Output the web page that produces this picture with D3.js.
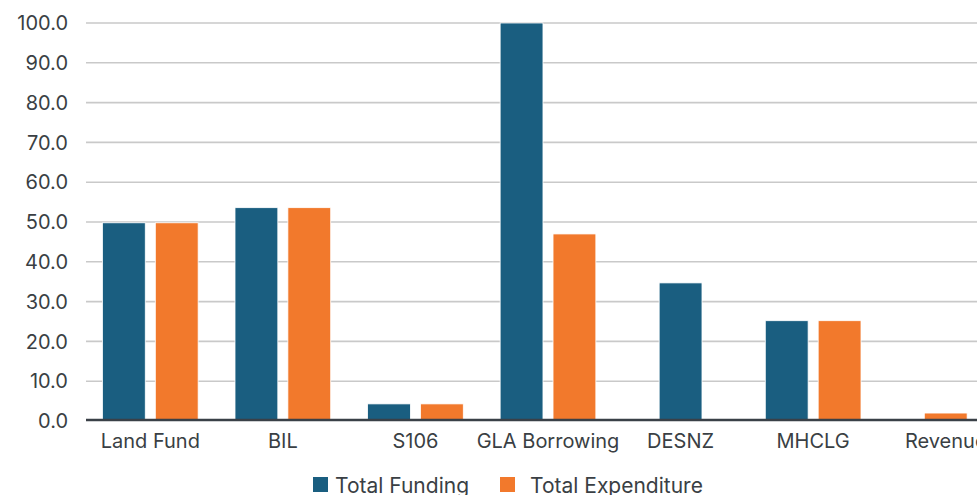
<!DOCTYPE html>
<html><head><meta charset="utf-8">
<script src="https://cdn.jsdelivr.net/npm/d3@7"></script>
<style>
html,body{margin:0;padding:0;background:#fff;overflow:hidden;}
svg{display:block;}
</style></head>
<body>
<svg id="chart" width="977" height="495"></svg>
<script>
const categories = ["Land Fund","BIL","S106","GLA Borrowing","DESNZ","MHCLG","Revenue"];
const seriesNames = ["Total Funding","Total Expenditure"];
const totalFunding = [49.8, 53.6, 4.3, 100.0, 34.7, 25.2, 0];
const totalExpenditure = [49.8, 53.6, 4.3, 47.0, 0, 25.2, 2.0];
const yTicks = [0,10,20,30,40,50,60,70,80,90,100];
const colors = ["#1a5e80","#f2792c"];

(function(){
const svg = d3.select("#chart");
const mLeft = 84, mRight = 1012, mTop = 23, mBottom = 421;

const y = d3.scaleLinear().domain([0,100]).range([mBottom, mTop]);
const x0 = d3.scaleBand().domain(categories).range([mLeft, mRight]).paddingInner(0.278).paddingOuter(0.139);

// gridlines
svg.append("g").selectAll("line").data(yTicks.filter(d=>d>0)).join("line")
  .attr("x1", 86).attr("x2", 977)
  .attr("y1", d=>y(d)).attr("y2", d=>y(d))
  .attr("stroke", "#c9c9c9").attr("stroke-width", 1.6);

// y tick labels
svg.append("g").selectAll("text").data(yTicks).join("text")
  .attr("x", 68).attr("y", d=>y(d)).attr("dy","0.36em")
  .attr("text-anchor","end")
  .attr("font-family","Inter, 'Noto Sans', sans-serif")
  .attr("font-size", 20).attr("fill","#3a3f44")
  .text(d=>d3.format(".1f")(d));

// bars
const rows = categories.map((c,i)=>({cat:c, vals:[totalFunding[i], totalExpenditure[i]]}));
const g = svg.append("g");
rows.forEach(r=>{
  const present = seriesNames.filter((s,j)=>r.vals[j] > 0);
  const x1 = d3.scaleBand().domain(present).range([0, x0.bandwidth()]).paddingInner(0.19);
  const bw = d3.scaleBand().domain(seriesNames).range([0, x0.bandwidth()]).paddingInner(0.19).bandwidth();
  const off = present.length === 1 ? (x0.bandwidth()-bw)/2 : 0;
  seriesNames.forEach((s,j)=>{
    if (!(r.vals[j] > 0)) return;
    const bx = x0(r.cat) + (present.length === 1 ? off : x1(s));
    g.append("rect")
      .attr("x", bx).attr("width", bw)
      .attr("y", y(r.vals[j])).attr("height", y(0)-y(r.vals[j]))
      .attr("fill", colors[j]).attr("stroke","#ffffff").attr("stroke-width",0.8);
  });
});

// x axis line
svg.append("line").attr("x1", 86).attr("x2", 977).attr("y1", y(0)-1).attr("y2", y(0)-1)
  .attr("stroke","#3a4047").attr("stroke-width",2.4);

// category labels
svg.append("g").selectAll("text").data(categories).join("text")
  .attr("x", d=>x0(d)+x0.bandwidth()/2).attr("y", 448)
  .attr("text-anchor","middle")
  .attr("font-family","Inter, 'Noto Sans', sans-serif")
  .attr("font-size", 20).attr("fill","#3a3f44")
  .text(d=>d);

// legend
const legX = [313, 500], legTextX = [335, 530];
const leg = svg.append("g");
seriesNames.forEach((s,j)=>{
  leg.append("rect").attr("x", legX[j]).attr("y", 477).attr("width",15).attr("height",15).attr("fill",colors[j]);
  leg.append("text").attr("x", legTextX[j]).attr("y", 493)
    .attr("font-family","Inter, 'Noto Sans', sans-serif")
    .attr("font-size", 21).attr("fill","#3a3f44").text(s);
});
})();
</script>
</body></html>
